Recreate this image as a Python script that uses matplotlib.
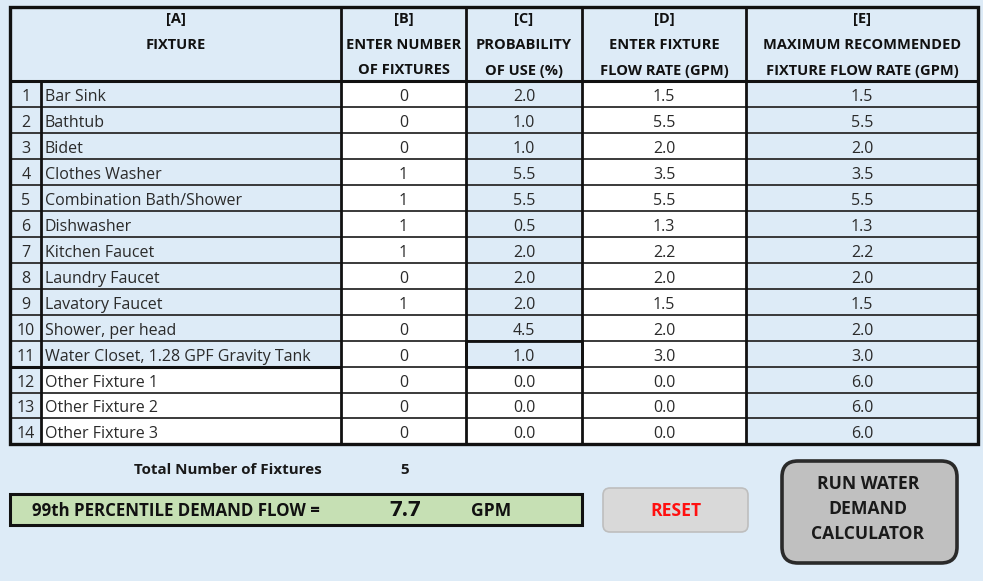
import matplotlib
matplotlib.use("Agg")
import matplotlib.pyplot as plt
from matplotlib.patches import Rectangle, FancyBboxPatch

# ---------------- data ----------------
fixtures = ["Bar Sink", "Bathtub", "Bidet", "Clothes Washer", "Combination Bath/Shower",
            "Dishwasher", "Kitchen Faucet", "Laundry Faucet", "Lavatory Faucet",
            "Shower, per head", "Water Closet, 1.28 GPF Gravity Tank",
            "Other Fixture 1", "Other Fixture 2", "Other Fixture 3"]
num_fixtures = [0, 0, 0, 1, 1, 1, 1, 0, 1, 0, 0, 0, 0, 0]
probability = [2.0, 1.0, 1.0, 5.5, 5.5, 0.5, 2.0, 2.0, 2.0, 4.5, 1.0, 0.0, 0.0, 0.0]
flow_rate = [1.5, 5.5, 2.0, 3.5, 5.5, 1.3, 2.2, 2.0, 1.5, 2.0, 3.0, 0.0, 0.0, 0.0]
max_flow_rate = [1.5, 5.5, 2.0, 3.5, 5.5, 1.3, 2.2, 2.0, 1.5, 2.0, 3.0, 6.0, 6.0, 6.0]
headers = [["[A]", "FIXTURE"],
           ["[B]", "ENTER NUMBER", "OF FIXTURES"],
           ["[C]", "PROBABILITY", "OF USE (%)"],
           ["[D]", "ENTER FIXTURE", "FLOW RATE (GPM)"],
           ["[E]", "MAXIMUM RECOMMENDED", "FIXTURE FLOW RATE (GPM)"]]
total_label = "Total Number of Fixtures"
demand_label = "99th PERCENTILE DEMAND FLOW ="
demand_value = 7.7
demand_unit = "GPM"
reset_label = "RESET"
run_label = ["RUN WATER", "DEMAND", "CALCULATOR"]

# ---------------- layout ----------------
W, H = 983, 581
BG = "#DDEBF7"
BLUE = "#DDEBF7"
WHITE = "#FFFFFF"
TXT = "#2A2A2A"
FONT = ["Open Sans", "DejaVu Sans"]

fig = plt.figure(figsize=(W / 100, H / 100), dpi=100, facecolor=BG)
ax = fig.add_axes([0, 0, 1, 1])
ax.set_xlim(0, W)
ax.set_ylim(H, 0)
ax.axis("off")
ax.set_facecolor(BG)

xs = [10, 41, 341, 466, 582, 746, 978]   # column edges: num | name | B | C | D | E
top, head_bot = 7, 81
row_h1 = 26.0
n1 = 11
row_tops = [head_bot + i * row_h1 for i in range(n1 + 1)]
y11 = row_tops[-1]
row_h2 = (444 - y11) / 3
row_tops += [y11 + (i + 1) * row_h2 for i in range(3)]
bottom = row_tops[-1]

def cell(x0, x1, y0, y1, fc):
    ax.add_patch(Rectangle((x0, y0), x1 - x0, y1 - y0, facecolor=fc, edgecolor="none", zorder=1))

# header fill
cell(xs[0], xs[-1], top, head_bot, BLUE)
n = len(fixtures)
for i in range(n):
    y0, y1 = row_tops[i], row_tops[i + 1]
    upper = i < n1
    cell(xs[0], xs[1], y0, y1, BLUE)
    cell(xs[1], xs[2], y0, y1, BLUE if upper else WHITE)
    cell(xs[2], xs[3], y0, y1, WHITE)
    cell(xs[3], xs[4], y0, y1, BLUE if upper else WHITE)
    cell(xs[4], xs[5], y0, y1, WHITE)
    cell(xs[5], xs[6], y0, y1, BLUE)

# row lines
for i in range(1, n):
    y = row_tops[i]
    ax.plot([xs[0], xs[-1]], [y, y], color="#2b2b2b", lw=1.3, zorder=3, solid_capstyle="butt")
ax.plot([xs[0], xs[2]], [y11, y11], color="#111111", lw=2.2, zorder=4, solid_capstyle="butt")
# row 11 column C box
ax.add_patch(Rectangle((xs[3], row_tops[n1 - 1]), xs[4] - xs[3], row_h1, facecolor="none",
                       edgecolor="#111111", lw=2.0, zorder=4))
# header bottom
ax.plot([xs[0], xs[-1]], [head_bot, head_bot], color="#111111", lw=2.2, zorder=4, solid_capstyle="butt")
# vertical lines
ax.plot([xs[1], xs[1]], [head_bot, bottom], color="#111111", lw=2.0, zorder=4)
for x in xs[2:-1]:
    ax.plot([x, x], [top, bottom], color="#111111", lw=2.0, zorder=4)
# outer border
ax.add_patch(Rectangle((xs[0], top), xs[-1] - xs[0], bottom - top, facecolor="none",
                       edgecolor="#111111", lw=2.4, zorder=5))

# header text
hcols = [(xs[0], xs[2])] + [(xs[k], xs[k + 1]) for k in range(2, 6)]
for (x0, x1), lines in zip(hcols, headers):
    cx = (x0 + x1) / 2
    for j, t in enumerate(lines):
        ax.text(cx, 19.5 + j * 25.5, t, ha="center", va="center", fontsize=10.5,
                fontweight="bold", family=FONT, color="#111111", zorder=6)

# body text
fs = 11.5
for i in range(n):
    cy = (row_tops[i] + row_tops[i + 1]) / 2 + 3.0
    ax.text((xs[0] + xs[1]) / 2 + 0.5, cy, str(i + 1), ha="center", va="center", fontsize=fs,
            family=FONT, color=TXT, zorder=6)
    ax.text(xs[1] + 4, cy, fixtures[i], ha="left", va="center", fontsize=fs,
            family=FONT, color=TXT, zorder=6)
    ax.text((xs[2] + xs[3]) / 2, cy, f"{num_fixtures[i]}", ha="center", va="center",
            fontsize=fs, family=FONT, color=TXT, zorder=6)
    ax.text((xs[3] + xs[4]) / 2, cy, f"{probability[i]:.1f}", ha="center", va="center",
            fontsize=fs, family=FONT, color=TXT, zorder=6)
    ax.text((xs[4] + xs[5]) / 2, cy, f"{flow_rate[i]:.1f}", ha="center", va="center",
            fontsize=fs, family=FONT, color=TXT, zorder=6)
    ax.text((xs[5] + xs[6]) / 2, cy, f"{max_flow_rate[i]:.1f}", ha="center", va="center",
            fontsize=fs, family=FONT, color=TXT, zorder=6)

# totals
ax.text(228, 470, total_label, ha="center", va="center", fontsize=10.9, fontweight="bold",
        family=FONT, color="#1a1a1a")
ax.text(405, 470, str(sum(num_fixtures)), ha="center", va="center", fontsize=10.9,
        fontweight="bold", family=FONT, color="#1a1a1a")

# demand box
ax.add_patch(Rectangle((10, 494), 572, 31, facecolor="#C6E0B4", edgecolor="#111111", lw=2.2, zorder=2))
ax.text(32, 511.5, demand_label, ha="left", va="center", fontsize=12.2, fontweight="bold",
        family=FONT, color="#111111", zorder=3)
ax.text(405, 510.5, f"{demand_value:.1f}", ha="center", va="center", fontsize=16, fontweight="bold",
        family=FONT, color="#111111", zorder=3)
ax.text(491, 511.5, demand_unit, ha="center", va="center", fontsize=12.6, fontweight="bold",
        family=FONT, color="#111111", zorder=3)

# reset button
ax.add_patch(FancyBboxPatch((603, 488), 145, 44, boxstyle="round,pad=0,rounding_size=7",
                            facecolor="#D9D9D9", edgecolor="#BEBEBE", lw=1.2, zorder=2))
ax.text(675.5, 511.5, reset_label, ha="center", va="center", fontsize=12.6, fontweight="bold",
        family=FONT, color="#FF1010", zorder=3)

# run button
ax.add_patch(FancyBboxPatch((782, 461), 175, 102, boxstyle="round,pad=0,rounding_size=16",
                            facecolor="#C0C0C0", edgecolor="#2a2a2a", lw=2.6, zorder=2))
for j, t in enumerate(run_label):
    ax.text(868, 484 + j * 25, t, ha="center", va="center", fontsize=12.6, fontweight="bold",
            family=FONT, color="#1a1a1a", zorder=3)

fig.savefig("out.png", dpi=100, facecolor=BG)
